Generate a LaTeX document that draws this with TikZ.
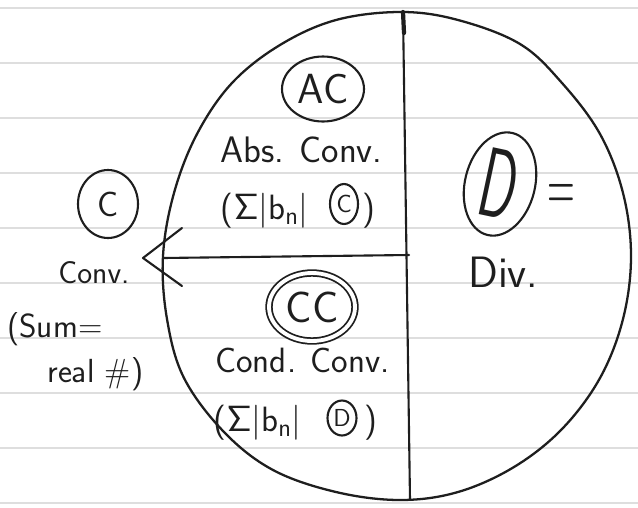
\documentclass[tikz,border=0pt]{standalone}
\usepackage{graphicx}
\usetikzlibrary{shapes.geometric}
\definecolor{inkc}{HTML}{1E1E1E}
\definecolor{rulec}{HTML}{DEDEDE}
\begin{document}
\begin{tikzpicture}[x=0.02cm,y=-0.02cm,
  ink/.style={draw=inkc,line width=1.2pt,line cap=round,line join=round},
  ruled/.style={draw=rulec,line width=1.1pt},
  lbl/.style={text=inkc,inner sep=0pt,font=\sffamily\fontsize{#1}{#1}\selectfont},
  lbl/.default=20,
  ring/.style={ellipse,draw=inkc,line width=1.2pt,inner sep=0pt}]
\useasboundingbox (0,0) rectangle (638,507);
\fill[white] (0,0) rectangle (638,507);
% ruled paper
\foreach \k in {0,...,9} \draw[ruled] (0,{8+55*\k}) -- (638,{8+55*\k});
% big circle
\draw[ink,line width=1.3pt] plot[smooth cycle,tension=0.6] coordinates {
 (631,256) (623,319) (600,378) (562,429) (514,467) (458,492) (400,500)
 (336,492) (273,470) (224,432) (184,378) (167,319) (163,256) (174,193)
 (197,134) (232,83) (280,45) (336,20) (401,12) (458,20) (520,44)
 (562,83) (600,134) (623,193)};
% dividers
\coordinate (vt) at (403,12);
\coordinate (vb) at (410,500);
\coordinate (vk) at (404,33);
\draw[ink] (vt) -- (vb);
\draw[ink,line width=2.4pt] (vt) -- (vk);
\coordinate (hl) at (163,258);
\coordinate (hr) at (409,255);
\draw[ink] (hl) -- (hr);
% chevron
\coordinate (au) at (182,228);
\coordinate (atip) at (143,258);
\coordinate (al) at (182,286);
\draw[ink] (au) -- (atip) -- (al);
% AC region
\node[ring,minimum width=1.64cm,minimum height=1.3cm,lbl=24] (ac) at (323,89) {AC};
\node[lbl=21,anchor=base west] (abs) at (220,162) {Abs. Conv.};
\node[lbl=20,anchor=base east] (sa) at (309,219) {(\(\mathsf{\Sigma}\)|b\(_{\mathsf{n}}\)|};
\node[ring,minimum width=0.56cm,minimum height=0.8cm,lbl=14] (ca) at (344,204) {C};
\node[lbl=20,anchor=base west] (pa) at (362,219) {)};
% CC region
\node[ring,double=white,double distance=2.2pt,line width=1pt,minimum width=1.72cm,minimum height=1.36cm,lbl=25] (cc) at (312,307) {CC};
\node[lbl=20,anchor=base west] (cond) at (215,372) {Cond. Conv.};
\node[lbl=20,anchor=base east] (sb) at (302,431) {(\(\mathsf{\Sigma}\)|b\(_{\mathsf{n}}\)|};
\node[ring,minimum width=0.58cm,minimum height=0.7cm,lbl=14] (cd) at (342,418) {D};
\node[lbl=20,anchor=base west] (pb) at (364,431) {)};
% C (left)
\node[ring,minimum width=1.2cm,minimum height=1.36cm,lbl=20] (c) at (108,204) {C};
\node[lbl=18,anchor=base west] (conv) at (58,283) {Conv.};
\node[lbl=19,anchor=base west] (sum) at (7,337) {(Sum=};
\node[lbl=19,anchor=base west] (real) at (47,382) {real \#)};
% D region
\node[ring,minimum width=1.4cm,minimum height=2.1cm,rotate=-14] (dring) at (500,184) {};
\node[lbl=56,rotate=-12] (d) at (dring.center) {\scalebox{0.55}[1]{D}};
\node[lbl=24] (eq) at (561,198) {\scalebox{0.9}[1.8]{=}};
\node[lbl=25,anchor=base west] (div) at (468,287) {Div.};
\end{tikzpicture}
\end{document}
